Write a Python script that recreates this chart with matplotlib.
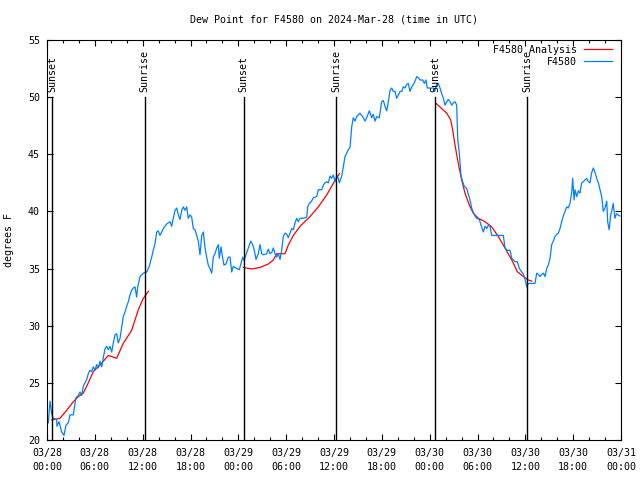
import datetime as dt
import numpy as np
import matplotlib
matplotlib.use("Agg")
import matplotlib.pyplot as plt
import matplotlib.dates as mdates

# station dew point, hours after 2024-03-28 00:00 UTC
obs_hours = [
    0.16, 0.38, 0.59, 0.79, 1.22, 1.25, 1.51, 1.84, 2.13, 2.38, 2.67, 2.89,
    3.30, 3.51, 3.64, 3.93, 4.14, 4.35, 4.55, 4.77, 4.98, 5.18, 5.39, 5.61,
    5.81, 6.02, 6.23, 6.43, 6.65, 6.86, 7.06, 7.28, 7.49, 7.69, 7.90, 8.12,
    8.32, 8.53, 8.74, 8.94, 9.16, 9.37, 9.57, 9.78, 10.00, 10.20, 10.41, 10.62,
    10.83, 11.04, 11.25, 11.38, 11.54, 11.67, 12.08, 12.51, 12.83, 13.13, 13.33, 13.55,
    13.76, 13.96, 14.17, 14.39, 14.59, 15.01, 15.43, 15.64, 15.84, 16.06, 16.27, 16.47,
    16.68, 16.90, 17.10, 17.31, 17.52, 17.72, 17.94, 18.15, 18.35, 18.56, 18.78, 18.98,
    19.19, 19.41, 19.61, 19.82, 20.03, 20.23, 20.45, 20.66, 20.86, 21.07, 21.29, 21.49,
    21.61, 21.83, 22.04, 22.20, 22.45, 22.74, 22.96, 23.17, 23.37, 23.80, 24.12, 24.55,
    24.71, 24.96, 25.25, 25.55, 25.80, 26.00, 26.22, 26.51, 26.72, 26.93, 27.13, 27.56,
    27.76, 27.97, 28.19, 28.39, 28.60, 28.81, 29.01, 29.23, 29.44, 29.64, 29.85, 30.07,
    30.27, 30.48, 30.69, 30.90, 31.11, 31.32, 31.52, 31.74, 32.15, 32.58, 32.70, 32.90,
    33.20, 33.40, 33.83, 34.03, 34.46, 34.66, 34.87, 35.09, 35.29, 35.50, 35.71, 35.91,
    36.13, 36.34, 36.54, 36.67, 36.97, 37.17, 37.38, 37.59, 37.79, 38.01, 38.22, 38.42,
    38.63, 38.85, 39.26, 39.68, 39.89, 40.10, 40.43, 40.73, 40.93, 41.14, 41.36, 41.68,
    41.98, 42.19, 42.40, 42.61, 42.81, 43.03, 43.24, 43.44, 43.65, 43.87, 44.07, 44.28,
    44.49, 44.69, 44.91, 45.12, 45.32, 45.53, 45.75, 45.95, 46.16, 46.38, 46.58, 46.79,
    47.13, 47.33, 47.54, 47.70, 48.04, 48.46, 48.63, 48.88, 49.08, 49.30, 49.51, 49.72,
    49.92, 50.14, 50.34, 50.55, 50.77, 50.97, 51.18, 51.39, 51.52, 51.72, 51.93, 52.14,
    52.34, 52.65, 52.85, 53.06, 53.27, 53.47, 53.69, 53.90, 54.23, 54.44, 54.73, 54.94,
    55.16, 55.36, 55.57, 55.78, 56.20, 56.61, 57.04, 57.24, 57.45, 57.74, 58.08, 58.30,
    58.71, 59.00, 59.25, 59.55, 59.75, 59.96, 60.17, 60.38, 60.59, 61.00, 61.21, 61.43,
    61.63, 61.84, 62.05, 62.26, 62.47, 62.68, 62.88, 63.10, 63.31, 63.51, 63.72, 63.94,
    64.14, 64.35, 64.56, 64.76, 64.98, 65.19, 65.39, 65.60, 65.82, 65.94, 66.11, 66.23,
    66.44, 66.64, 66.85, 67.07, 67.27, 67.70, 67.90, 68.11, 68.33, 68.53, 68.74, 68.95,
    69.16, 69.37, 69.58, 69.78, 69.99, 70.21, 70.33, 70.51, 70.69, 70.89, 71.02, 71.24,
    71.42, 71.63, 71.87,
]
obs_dewpt = [
    21.5, 23.4, 22.3, 21.9, 21.8, 21.2, 21.6, 20.7, 20.4, 21.3, 21.5, 22.2,
    22.2, 23.2, 23.7, 23.9, 24.2, 23.9, 24.7, 25.0, 25.3, 25.8, 26.1, 26.0,
    26.4, 26.1, 26.6, 26.3, 26.9, 26.4, 27.2, 28.0, 28.2, 27.9, 28.2, 27.7,
    28.5, 29.2, 29.3, 28.5, 28.9, 29.9, 30.8, 31.2, 31.7, 32.1, 32.7, 33.1,
    33.3, 33.4, 32.5, 33.4, 33.9, 34.3, 34.6, 34.7, 35.2, 36.0, 36.6, 37.2,
    38.2, 38.3, 37.9, 38.2, 38.5, 38.9, 39.1, 38.7, 39.4, 40.1, 40.3, 39.7,
    39.3, 40.1, 40.4, 40.1, 40.4, 39.4, 39.7, 39.5, 38.5, 38.4, 37.9, 37.4,
    36.2, 37.9, 38.2, 36.8, 36.0, 35.3, 35.0, 34.6, 36.0, 36.3, 36.8, 37.1,
    35.9, 36.9, 35.9, 35.3, 35.4, 36.0, 36.0, 34.7, 35.2, 35.0, 34.9, 36.0,
    35.7, 36.2, 36.8, 37.4, 37.1, 36.6, 35.8, 36.3, 37.1, 36.3, 36.2, 36.3,
    36.7, 36.3, 36.4, 36.8, 36.3, 36.0, 36.3, 35.8, 36.6, 37.8, 38.1, 38.0,
    37.7, 38.1, 38.5, 38.4, 39.0, 39.4, 39.1, 39.4, 39.4, 39.5, 40.4, 40.7,
    40.9, 41.2, 41.3, 41.9, 41.9, 42.3, 42.5, 42.6, 42.5, 43.1, 42.9, 43.2,
    42.6, 43.1, 42.9, 42.5, 43.1, 43.9, 44.8, 45.1, 45.4, 45.6, 47.4, 48.2,
    47.9, 48.3, 48.6, 48.2, 47.9, 48.2, 48.8, 48.2, 48.5, 47.9, 48.3, 48.2,
    49.6, 49.7, 49.2, 48.8, 49.6, 50.6, 50.8, 50.5, 50.5, 49.9, 50.2, 50.5,
    50.5, 50.9, 50.8, 51.1, 51.2, 50.5, 50.9, 51.1, 51.4, 51.8, 51.7, 51.5,
    51.5, 51.2, 51.5, 50.8, 50.8, 50.8, 50.5, 51.1, 51.2, 50.8, 50.3, 49.9,
    49.3, 49.6, 49.8, 49.6, 49.3, 49.5, 49.6, 49.3, 46.3, 45.1, 43.1, 42.6,
    42.2, 42.0, 41.5, 41.0, 40.3, 39.9, 39.6, 39.4, 39.3, 38.8, 38.2, 38.7,
    38.5, 38.8, 38.7, 37.9, 37.9, 37.9, 37.9, 37.9, 36.8, 36.6, 36.6, 35.9,
    35.6, 35.6, 35.0, 34.7, 34.5, 34.1, 33.4, 33.7, 33.7, 33.7, 33.7, 34.6,
    34.5, 34.3, 34.5, 34.6, 34.3, 35.0, 35.3, 35.9, 37.1, 37.4, 37.8, 38.0,
    38.1, 38.5, 39.1, 39.6, 40.0, 40.4, 40.3, 40.7, 41.7, 42.9, 41.0, 41.9,
    41.3, 41.8, 41.6, 42.5, 42.6, 42.9, 42.6, 42.5, 43.4, 43.8, 43.4, 42.9,
    42.5, 41.9, 41.3, 40.0, 40.3, 40.9, 39.1, 38.4, 39.6, 40.2, 40.7, 39.4,
    39.8, 39.7, 39.6,
]

# analysis, three overnight pieces
ana_hours = [
    [0.59, 1.63, 2.47, 3.30, 3.93, 4.55, 5.18, 5.81, 6.65, 7.69, 8.74, 9.57,
     10.62, 11.45, 12.08, 12.71],
    [24.62, 25.68, 26.72, 27.76, 28.39, 28.81, 29.85, 30.27, 30.90, 31.74,
     32.99, 34.03, 35.09, 35.91, 36.67],
    [48.80, 49.51, 50.14, 50.64, 50.89, 51.18, 51.59, 52.02, 52.43, 52.97,
     53.47, 54.10, 54.94, 55.78, 56.61, 57.45, 58.30, 59.00, 59.75, 60.38, 60.80],
]
ana_dewpt = [
    [21.75, 21.9, 22.6, 23.35, 23.8, 24.1, 25.0, 26.0, 26.56, 27.4, 27.15, 28.46,
     29.6, 31.4, 32.4, 33.0],
    [35.1, 34.96, 35.1, 35.4, 35.75, 36.3, 36.3, 37.06, 37.9, 38.7,
     39.55, 40.4, 41.45, 42.45, 43.3],
    [49.45, 49.0, 48.6, 48.0, 47.1, 45.8, 44.2, 42.75, 41.6, 40.56,
     39.85, 39.4, 39.1, 38.65, 37.8, 36.8, 35.75, 34.73, 34.3, 34.0, 33.9],
]

sun_hours = [0.63, 12.27, 24.65, 36.25, 48.67, 60.22]
sun_names = ["Sunset", "Sunrise", "Sunset", "Sunrise", "Sunset", "Sunrise"]

start = dt.datetime(2024, 3, 28)
def to_time(hours):
    return [start + dt.timedelta(hours=h) for h in hours]

plt.rcParams['font.family'] = ['DejaVu Sans Mono']
plt.rcParams['font.size'] = 7.2

fig = plt.figure(figsize=(6.4, 4.8), dpi=100)
ax = fig.add_axes([47/640, 40/480, 574/640, 400/480])

for i, (h, v) in enumerate(zip(ana_hours, ana_dewpt)):
    ax.plot(to_time(h), v, color='#ff0000', lw=0.9,
            label='F4580 Analysis' if i == 0 else None)
ax.plot(to_time(obs_hours), obs_dewpt, color='#0080ff', lw=0.9, label='F4580')

for h, name in zip(sun_hours, sun_names):
    t = start + dt.timedelta(hours=h)
    ax.plot([t, t], [20, 50.0], color='black', lw=1.0)
    ax.text(t, 50.45, name, rotation=90, ha='center', va='bottom')

ax.set_xlim(start, start + dt.timedelta(hours=72))
ax.set_ylim(20, 55)
ax.set_yticks(np.arange(20, 56, 5))

ax.xaxis.set_major_locator(mdates.HourLocator(byhour=[0, 6, 12, 18]))
ax.xaxis.set_minor_locator(mdates.HourLocator(interval=2))
ax.xaxis.set_major_formatter(mdates.DateFormatter('%m/%d\n%H:%M'))
for lab in ax.get_xticklabels():
    lab.set_linespacing(1.6)

ax.tick_params(axis='both', which='both', direction='in', top=True, right=True,
               width=0.8, colors='black')
ax.tick_params(axis='both', which='major', length=4.3)
ax.tick_params(axis='x', which='minor', length=2.2)
ax.tick_params(axis='x', which='major', pad=5.5)
ax.tick_params(axis='y', which='major', pad=5)
for s in ax.spines.values():
    s.set_linewidth(0.8)

ax.set_ylabel('degrees F')
ax.yaxis.set_label_coords(-0.058, 0.5)

fig.text(334/640, 1 - 20/480, 'Dew Point for F4580 on 2024-Mar-28 (time in UTC)',
         ha='center', va='center')

ax.legend(loc='upper right', bbox_to_anchor=(1.0, 1.0 + 4/400), frameon=False,
          markerfirst=False, handlelength=2.8, handletextpad=0.7,
          labelspacing=0.2, borderaxespad=0.7, borderpad=0.2)

fig.savefig('out.png', dpi=100)
